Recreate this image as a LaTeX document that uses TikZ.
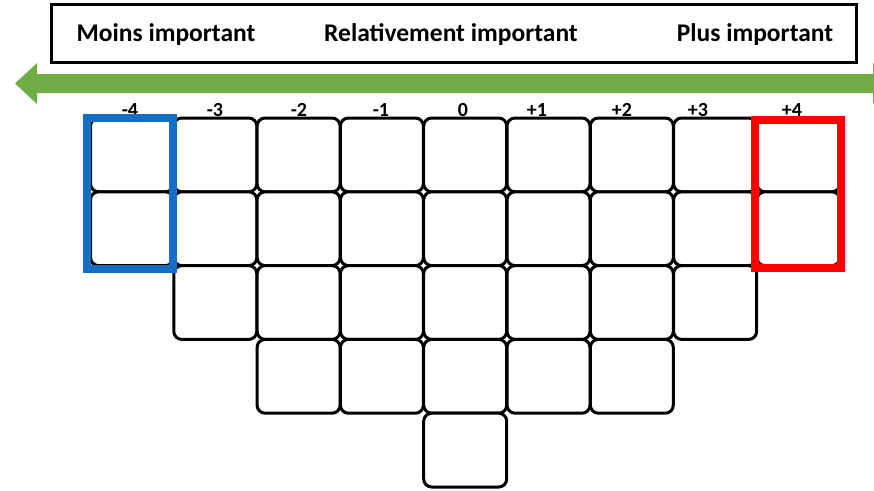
\documentclass[tikz,border=0pt]{standalone}
\usepackage{fontspec}
\setmainfont{Carlito}
\definecolor{arrowgreen}{HTML}{70AD47}
\definecolor{qblue}{HTML}{1570C4}
\definecolor{qred}{HTML}{FF0000}
\begin{document}
\begin{tikzpicture}[x=1pt,y=-1pt,
  cell/.style={draw=black,line width=3pt,rounded corners=8pt,minimum width=83pt,minimum height=73.8pt,inner sep=0pt,fill=white},
  head/.style={font=\fontsize{25.5}{30}\selectfont\bfseries,inner sep=0pt,anchor=base},
  lab/.style={font=\fontsize{20}{24}\selectfont\bfseries,inner sep=0pt,anchor=base},
  frame/.style={draw=black,line width=3pt},
  hilite/.style={line width=8pt}]
\useasboundingbox (0,0) rectangle (874,490);
\clip (0,0) rectangle (874,490);
\fill[white] (0,0) rectangle (874,490);
% header box
\draw[frame] (51.5,4.5) rectangle (856.5,62.5);
\node[head] (moins) at (166,41) {Moins important};
\node[head] (rel) at (451,41) {Relativement important};
\node[head] (plus) at (755,41) {Plus important};
% green double arrow
\fill[arrowgreen] (15,83.5) -- (37,63) -- (37,74) -- (873,74) -- (873,63) -- (895,83.5)
  -- (873,104) -- (873,93) -- (37,93) -- (37,104) -- cycle;
% cells
\foreach \i/\n in {0/2,1/3,2/4,3/4,4/5,5/4,6/4,7/3,8/2}{
  \foreach \j in {1,...,\n}{
    \node[cell] (c\i-\j) at ({132+83.3*\i},{118+73.8*(\j-0.5)}) {};
  }
}
% labels
\foreach \i/\t/\x in {0/-4/130,1/-3/215,2/-2/299,3/-1/381,4/0/463,5/+1/537,6/+2/622,7/+3/698,8/+4/792}{
  \node[lab] (l\i) at (\x,116) {\t};
}
% highlight frames
\draw[hilite,draw=qblue] (87,118) rectangle (173,269);
\draw[hilite,draw=qred] (755,120) rectangle (841,268);
\end{tikzpicture}
\end{document}
